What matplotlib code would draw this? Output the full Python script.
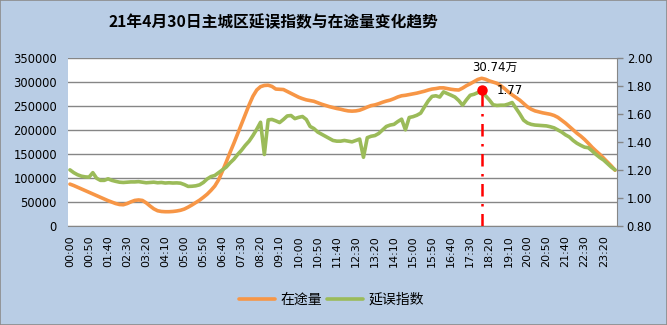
import matplotlib
matplotlib.use('Agg')
import matplotlib.pyplot as plt
from matplotlib.patches import Rectangle

plt.rcParams['font.family'] = ['DejaVu Sans', 'Noto Sans CJK SC']

# 10-minute slots over the day
times = ['%02d:%02d' % (i // 6, (i % 6) * 10) for i in range(144)]

# vehicles on the road (left axis)
volume = [
    87000, 84000, 80500, 77000, 73500, 70000, 66500, 63000, 59500, 56000,
    52500, 49500, 46500, 44500, 44000, 46500, 50000, 53000, 54000, 53000,
    48000, 41500, 35500, 31500, 30000, 29500, 29500, 30000, 31000, 32500,
    35000, 39000, 43500, 48500, 53500, 59500, 66000, 74000, 83000, 96000,
    114000, 133000, 153000, 172000, 192000, 212000, 232000, 252000, 270000, 283000,
    290000, 292500, 293000, 290500, 285000, 284500, 284000, 280000, 276000, 272000,
    268000, 265000, 262500, 261000, 259500, 256500, 253500, 251000, 248500, 246500,
    244500, 243000, 241000, 239500, 239000, 239500, 241000, 244000, 247500, 250500,
    252000, 254500, 257500, 260000, 262000, 265000, 268500, 271000, 272000, 273500,
    275000, 276500, 278500, 280500, 283000, 285000, 286000, 287500, 287500, 286000,
    284500, 283500, 283000, 287000, 292000, 296000, 300500, 305000, 307400, 305500,
    302000, 299500, 297000, 292000, 286000, 279000, 273000, 267500, 262000, 255000,
    248000, 243000, 239500, 237500, 235500, 234000, 232500, 230000, 226000, 220000,
    214000, 207000, 200000, 193000, 187000, 180000, 172000, 163500, 156000, 149000,
    141000, 133000, 125000, 116000,
]

# congestion delay index (right axis)
delay = [
    1.200, 1.180, 1.165, 1.155, 1.150, 1.148, 1.180, 1.140, 1.125, 1.125,
    1.136, 1.125, 1.118, 1.112, 1.110, 1.112, 1.114, 1.114, 1.116, 1.112,
    1.108, 1.110, 1.112, 1.108, 1.110, 1.106, 1.108, 1.106, 1.107, 1.105,
    1.095, 1.082, 1.083, 1.086, 1.093, 1.110, 1.135, 1.152, 1.160, 1.180,
    1.200, 1.220, 1.250, 1.276, 1.310, 1.340, 1.375, 1.405, 1.445, 1.490,
    1.540, 1.310, 1.557, 1.560, 1.550, 1.538, 1.560, 1.585, 1.588, 1.566,
    1.575, 1.581, 1.560, 1.510, 1.495, 1.470, 1.455, 1.440, 1.425, 1.410,
    1.405, 1.405, 1.410, 1.405, 1.400, 1.410, 1.420, 1.290, 1.430, 1.440,
    1.445, 1.460, 1.485, 1.510, 1.520, 1.525, 1.545, 1.562, 1.486, 1.574,
    1.580, 1.590, 1.605, 1.650, 1.693, 1.725, 1.729, 1.720, 1.757, 1.745,
    1.733, 1.720, 1.695, 1.662, 1.700, 1.733, 1.740, 1.752, 1.770, 1.730,
    1.700, 1.665, 1.660, 1.662, 1.662, 1.670, 1.681, 1.640, 1.600, 1.555,
    1.535, 1.525, 1.520, 1.518, 1.516, 1.514, 1.508, 1.500, 1.485, 1.470,
    1.450, 1.435, 1.410, 1.390, 1.375, 1.362, 1.358, 1.335, 1.310, 1.288,
    1.270, 1.245, 1.220, 1.200,
]

peak_idx = 108
peak_text = '30.74万'

orange = '#F79646'
green = '#9BBB59'
bg = '#B9CDE5'
grid_c = '#868686'

fig = plt.figure(figsize=(6.67, 3.25), dpi=100, facecolor=bg)
fig.patches.append(Rectangle((0, 0), 1, 1, transform=fig.transFigure,
                             fill=False, edgecolor='#8C8C8C', lw=1.2))

ax = fig.add_axes([0.102, 0.305, 0.823, 0.517])
ax.set_facecolor('white')
x = list(range(len(times)))

ax.plot(x, volume, color=orange, lw=2.6, solid_capstyle='round', label='在途量')
ax.set_ylim(0, 350000)
ax.set_yticks(range(0, 350001, 50000))
ax.set_xlim(-0.5, len(times) - 0.5)
ax.set_xticks(x[::5])
ax.set_xticklabels(times[::5], rotation=90)
ax.yaxis.grid(True, color=grid_c, lw=1)
ax.set_axisbelow(True)
ax.tick_params(axis='x', length=0, pad=7, labelsize=8)
ax.tick_params(axis='y', length=0, pad=8, labelsize=8.3)
for s in ['top', 'left', 'right']:
    ax.spines[s].set_visible(False)
ax.spines['bottom'].set_color(grid_c)

ax2 = ax.twinx()
ax2.plot(x, delay, color=green, lw=2.6, solid_capstyle='round', label='延误指数')
ax2.set_ylim(0.8, 2.0)
ax2.set_yticks([0.8, 1.0, 1.2, 1.4, 1.6, 1.8, 2.0])
ax2.set_yticklabels(['%.2f' % v for v in [0.8, 1.0, 1.2, 1.4, 1.6, 1.8, 2.0]])
ax2.tick_params(axis='y', length=4, width=1, color=grid_c, pad=3, labelsize=8.3)
for s in ['top', 'left', 'bottom']:
    ax2.spines[s].set_visible(False)
ax2.spines['right'].set_color(grid_c)

# peak marker with a drop line
ax2.plot([peak_idx, peak_idx], [0.8, delay[peak_idx]], color='red', lw=1.8,
         ls=(0, (5, 3, 1, 3)))
ax2.plot(peak_idx, delay[peak_idx], 'o', color='red', ms=6.5)
ax2.text(peak_idx + 4, delay[peak_idx] - 0.005, '%.2f' % delay[peak_idx],
         fontsize=8.5, va='center', ha='left')
ax.text(peak_idx - 2.5, volume[peak_idx] + 9000, peak_text,
        fontsize=8.5, va='bottom', ha='left')

fig.text(0.41, 0.932, '21年4月30日主城区延误指数与在途量变化趋势',
         family=['Noto Sans CJK SC'], fontweight='bold', fontsize=11.3,
         ha='center', va='center')

h1, l1 = ax.get_legend_handles_labels()
h2, l2 = ax2.get_legend_handles_labels()
fig.legend(h1 + h2, l1 + l2, loc='center', bbox_to_anchor=(0.497, 0.077),
           ncol=2, frameon=False, handlelength=2.6, handletextpad=0.4,
           columnspacing=0.3, prop={'family': ['Noto Sans CJK SC'], 'size': 10})

fig.savefig('out.png', dpi=100, facecolor=bg)
